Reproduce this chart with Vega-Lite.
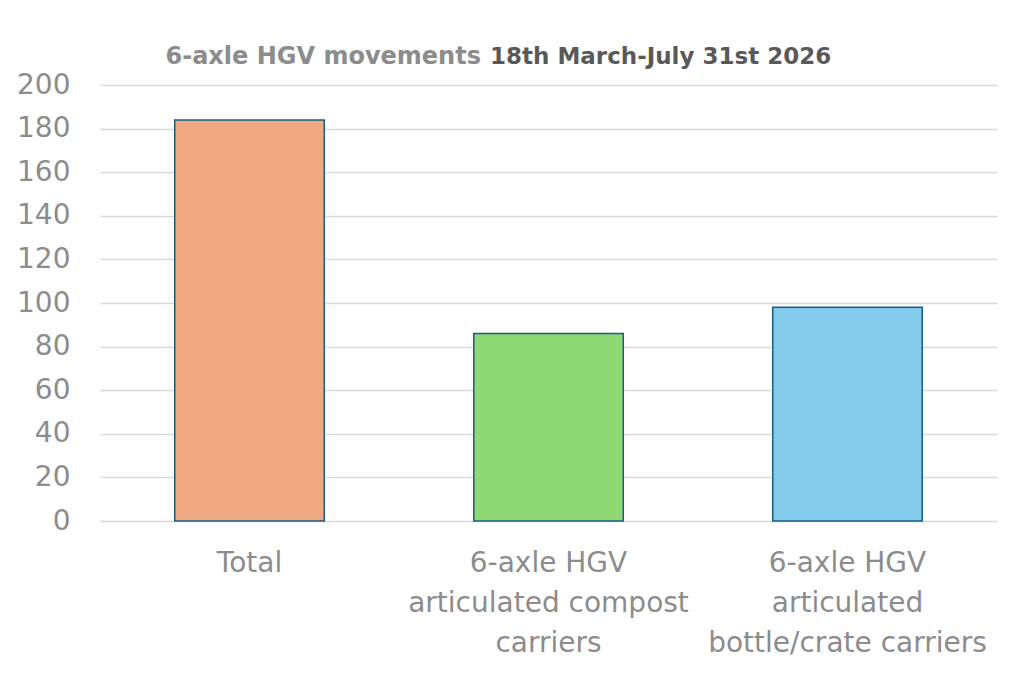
{
  "$schema": "https://vega.github.io/schema/vega-lite/v6.json",
  "autosize": {"type": "none"},
  "padding": {"left": 100, "top": 85, "right": 27, "bottom": 160},
  "width": 897,
  "height": 436,
  "background": "white",
  "title": {
    "text": "18th March-July 31st 2026",
    "anchor": "start",
    "frame": "group",
    "dx": 390,
    "offset": -43,
    "baseline": "alphabetic",
    "font": "DejaVu Sans",
    "fontSize": 23,
    "fontWeight": "bold",
    "color": "#595959"
  },
  "data": {
    "values": [
      {"category": "Total", "movements": 184},
      {"category": "6-axle HGV articulated compost carriers", "movements": 86},
      {"category": "6-axle HGV articulated bottle/crate carriers", "movements": 98}
    ]
  },
  "mark": {"type": "bar", "stroke": "#156082", "strokeWidth": 1.5},
  "encoding": {
    "x": {
      "field": "category",
      "type": "nominal",
      "sort": null,
      "scale": {"paddingInner": 0.5, "paddingOuter": 0.25},
      "axis": {
        "title": null,
        "labelAngle": 0,
        "labelPadding": 28,
        "labelBaseline": "top",
        "labelLineHeight": 40,
        "labelLimit": 0,
        "labelExpr": "datum.value == 'Total' ? 'Total' : indexof(datum.value, 'compost') > 0 ? ['6-axle HGV', 'articulated compost', 'carriers'] : ['6-axle HGV', 'articulated', 'bottle/crate carriers']",
        "ticks": false,
        "domain": false
      }
    },
    "y": {
      "field": "movements",
      "type": "quantitative",
      "scale": {"domain": [0, 200]},
      "axis": {
        "values": [0, 20, 40, 60, 80, 100, 120, 140, 160, 180, 200],
        "title": "6-axle HGV movements",
        "titleAngle": 0,
        "titleAlign": "left",
        "titleBaseline": "alphabetic",
        "titleX": 65,
        "titleY": -22,
        "titleFont": "DejaVu Sans",
        "titleFontSize": 24,
        "titleFontWeight": "bold",
        "titleColor": "#8c8c8c",
        "labelPadding": 30,
        "ticks": false,
        "domain": false,
        "gridColor": "#d9d9d9",
        "gridWidth": 1.5
      }
    },
    "color": {
      "field": "category",
      "type": "nominal",
      "sort": null,
      "scale": {"range": ["#F1A983", "#8ED973", "#83CBEB"]},
      "legend": null
    }
  },
  "config": {
    "view": {"stroke": null},
    "axis": {
      "labelFont": "DejaVu Sans",
      "labelFontSize": 28,
      "labelColor": "#8c8c8c"
    }
  }
}
